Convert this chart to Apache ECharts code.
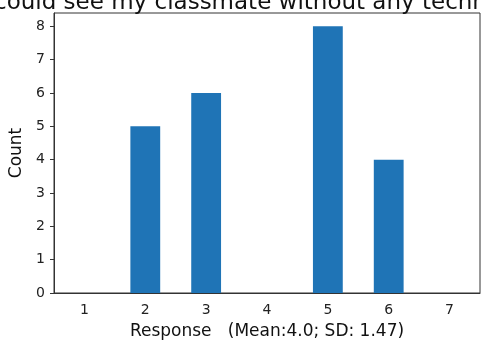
<!DOCTYPE html>
<html>
<head>
<meta charset="utf-8">
<script src="https://cdn.jsdelivr.net/npm/echarts@6/dist/echarts.min.js"></script>
<style>html,body{margin:0;padding:0;background:#fff;}#c{width:481px;height:340px;}</style>
</head>
<body>
<div id="c"></div>
<script>
const titleText = "could see my classmate without any technical difficulties";
const categories = ["1", "2", "3", "4", "5", "6", "7"];
const counts = [0, 5, 6, 0, 8, 4, 0];
const yTicks = [0, 1, 2, 3, 4, 5, 6, 7, 8];
const xAxisTitle = "Response   (Mean:4.0; SD: 1.47)";
const yAxisTitle = "Count";

const chart = echarts.init(document.getElementById('c'), null, {renderer: 'canvas'});
const font = 'DejaVu Sans';
chart.setOption({
  animation: false,
  backgroundColor: '#ffffff',
  graphic: [{
    type: 'text',
    left: -6,
    top: -8,
    style: { text: titleText, font: '23px "DejaVu Sans"', fill: '#111' }
  }],
  grid: { left: 54, top: 13, right: 1, bottom: 47, show: true, borderColor: '#333', borderWidth: 1, backgroundColor: 'transparent', outerBoundsMode: 'none', containLabel: false },
  xAxis: {
    type: 'category',
    data: categories,
    boundaryGap: true,
    name: xAxisTitle,
    nameLocation: 'middle',
    nameGap: 30,
    nameTextStyle: { fontFamily: font, fontSize: 17, color: '#111' },
    axisLine: { lineStyle: { color: '#333', width: 1 } },
    axisTick: { alignWithLabel: true, length: 4, lineStyle: { color: '#333' } },
    axisLabel: { fontFamily: font, fontSize: 14, color: '#222', margin: 10 },
    splitLine: { show: false }
  },
  yAxis: {
    type: 'value',
    min: 0,
    max: 8.4,
    interval: 1,
    name: yAxisTitle,
    nameLocation: 'middle',
    nameGap: 26,
    nameRotate: 90,
    nameTextStyle: { fontFamily: font, fontSize: 17, color: '#111' },
    axisLine: { show: true, lineStyle: { color: '#333', width: 1 } },
    axisTick: { show: true, length: 4, lineStyle: { color: '#333' }, customValues: yTicks },
    axisLabel: { fontFamily: font, fontSize: 14, color: '#222', margin: 9, customValues: yTicks },
    splitLine: { show: false }
  },
  series: [{
    type: 'bar',
    data: counts,
    barWidth: '49%',
    itemStyle: { color: '#1f74b6' }
  }]
});
</script>
</body>
</html>
